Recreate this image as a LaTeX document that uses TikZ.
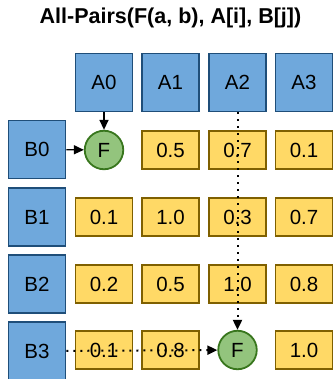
\documentclass[tikz,border=0pt]{standalone}
\usepackage{fontspec}
\setmainfont{Liberation Sans}
\usetikzlibrary{arrows.meta}
\definecolor{bfill}{HTML}{6FA8DC}
\definecolor{bdraw}{HTML}{1F4E79}
\definecolor{yfill}{HTML}{FFD966}
\definecolor{ydraw}{HTML}{7F6000}
\definecolor{gfill}{HTML}{93C47D}
\definecolor{gdraw}{HTML}{38761D}
\tikzset{
  txt/.style={font=\fontsize{20.5}{20.5}\selectfont},
  bluebox/.style={txt,draw=bdraw,fill=bfill,line width=1.8pt,minimum width=57pt,minimum height=58pt,inner sep=0pt},
  cellbox/.style={txt,draw=ydraw,fill=yfill,line width=1.8pt,minimum width=57pt,minimum height=38pt,inner sep=0pt},
  fnode/.style={txt,circle,draw=gdraw,fill=gfill,line width=1.8pt,minimum size=38.5pt,inner sep=0pt},
  solidarrow/.style={line width=1.4pt,-{Triangle[length=10pt,width=9pt]}},
  dotarrow/.style={line width=2pt,dash pattern=on 2pt off 5pt,-{Triangle[length=10pt,width=9pt]}},
}
\begin{document}
\begin{tikzpicture}[x=1pt,y=-1pt]
\useasboundingbox (0,0) rectangle (332,379);
\node (title) at (170.5,18) {\fontsize{21.5}{21.5}\selectfont\bfseries All-Pairs(F(a, b), A[i], B[j])};
% A row
\node[bluebox] (A0) at (104,82.5) {A0};
\node[bluebox] (A1) at (170.5,82.5) {A1};
\node[bluebox] (A2) at (237.5,82.5) {A2};
\node[bluebox] (A3) at (304,82.5) {A3};
% B column
\node[bluebox] (B0) at (37,149.5) {B0};
\node[bluebox] (B1) at (37,217) {B1};
\node[bluebox] (B2) at (37,284) {B2};
\node[bluebox] (B3) at (37,351) {B3};
% row 0
\node[fnode] (F0) at (104,150) {F};
\node[cellbox] (c01) at (170.5,150) {0.5};
\node[cellbox] (c02) at (237.5,150) {0.7};
\node[cellbox] (c03) at (304,150) {0.1};
% row 1
\node[cellbox] (c10) at (104,217) {0.1};
\node[cellbox] (c11) at (170.5,217) {1.0};
\node[cellbox] (c12) at (237.5,217) {0.3};
\node[cellbox] (c13) at (304,217) {0.7};
% row 2
\node[cellbox] (c20) at (104,284) {0.2};
\node[cellbox] (c21) at (170.5,284) {0.5};
\node[cellbox] (c22) at (237.5,284) {1.0};
\node[cellbox] (c23) at (304,284) {0.8};
% row 3
\node[cellbox] (c30) at (104,350) {0.1};
\node[cellbox] (c31) at (170.5,350) {0.8};
\node[fnode] (F3) at (237.5,350) {F};
\node[cellbox] (c33) at (304,350) {1.0};
% connectors
\draw[solidarrow] (A0) -- (F0);
\draw[solidarrow] (B0) -- (F0);
\draw[dotarrow] (A2) -- (F3);
\draw[dotarrow] (B3) -- (F3);
\end{tikzpicture}
\end{document}
